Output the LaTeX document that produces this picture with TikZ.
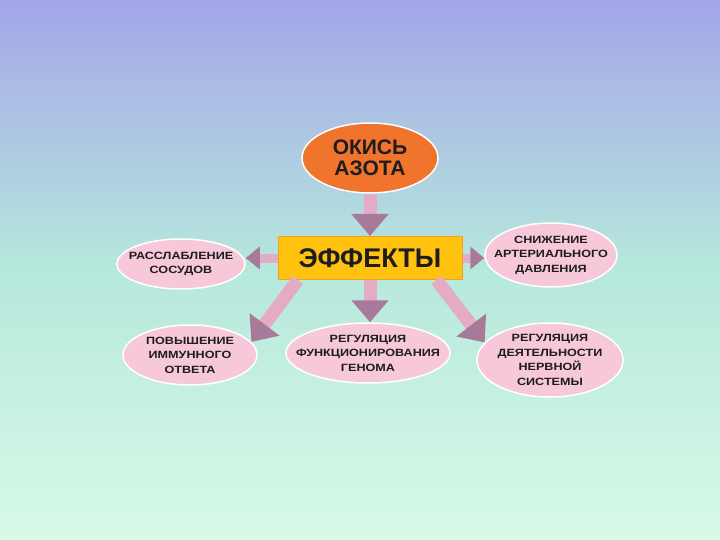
\documentclass[tikz,border=0pt]{standalone}
\usepackage{fontspec}
\setmainfont{Liberation Sans}
\newfontfamily\petalfont[FakeStretch=1.2]{Liberation Sans}
\usetikzlibrary{arrows.meta,shapes.geometric,positioning,calc}
\definecolor{bgtop}{RGB}{164,166,232}
\definecolor{bgmid}{RGB}{182,232,220}
\definecolor{bgbot}{RGB}{216,250,232}
\definecolor{oxide}{RGB}{240,116,44}
\definecolor{effect}{RGB}{255,194,14}
\definecolor{effectline}{RGB}{240,160,40}
\definecolor{petal}{RGB}{246,200,218}
\definecolor{shaft}{RGB}{228,172,196}
\definecolor{tip}{RGB}{168,122,154}
\definecolor{ink}{RGB}{30,28,30}

\begin{document}
\begin{tikzpicture}[x=1pt,y=-1pt,
  petalnode/.style={ellipse,fill=petal,draw=white,line width=1.5pt,inner xsep=-24pt,inner ysep=-4pt,align=center,text=ink,font=\petalfont\fontsize{10.5}{14.5}\selectfont\bfseries},
  fatarrow/.style={draw=shaft,line width=13pt,-{Triangle[width=36pt,length=22pt,color=tip]}},
  sidearrow/.style={draw=shaft,line width=9pt,-{Triangle[width=22pt,length=14pt,color=tip]}}]
\useasboundingbox (0,0) rectangle (720,540);
\fill[top color=bgtop,bottom color=bgbot,middle color=bgmid] (0,0) rectangle (720,540);

\node[ellipse,fill=oxide,draw=white,line width=1.5pt,minimum width=136pt,minimum height=70pt,inner sep=0pt,align=center,text=ink,font=\fontsize{21}{20.5}\selectfont\bfseries] (oxide) at (370,158) {ОКИСЬ\\АЗОТА};
\node[fill=effect,draw=effectline,line width=1pt,minimum width=184pt,minimum height=43pt,text=ink,font=\fontsize{27}{27}\selectfont\bfseries] (effects) at (370,258) {ЭФФЕКТЫ};

\node[petalnode,minimum width=128pt,minimum height=50pt] (vessels) at (181,264) {РАССЛАБЛЕНИЕ\\СОСУДОВ};
\node[petalnode,minimum width=132pt,minimum height=64pt] (pressure) at (551,255) {СНИЖЕНИЕ\\АРТЕРИАЛЬНОГО\\ДАВЛЕНИЯ};
\node[petalnode,minimum width=134pt,minimum height=60pt] (immune) at (190,355) {ПОВЫШЕНИЕ\\ИММУННОГО\\ОТВЕТА};
\node[petalnode,minimum width=164pt,minimum height=60pt] (genome) at (368,353) {РЕГУЛЯЦИЯ\\ФУНКЦИОНИРОВАНИЯ\\ГЕНОМА};
\node[petalnode,minimum width=146pt,minimum height=74pt] (nervous) at (550,360) {РЕГУЛЯЦИЯ\\ДЕЯТЕЛЬНОСТИ\\НЕРВНОЙ\\СИСТЕМЫ};

\draw[fatarrow] (oxide) -- (effects);
\draw[sidearrow] (effects.west) -- (effects.west -| vessels.east);
\draw[sidearrow] (effects.east) -- (effects.east -| pressure.west);
\draw[fatarrow] ($(effects.south west)!0.11!(effects.south east)$) -- (immune.12);
\draw[fatarrow] (effects.south) -- (effects.south |- genome.north);
\draw[fatarrow] ($(effects.south west)!0.86!(effects.south east)$) -- (nervous.165);
\end{tikzpicture}
\end{document}
